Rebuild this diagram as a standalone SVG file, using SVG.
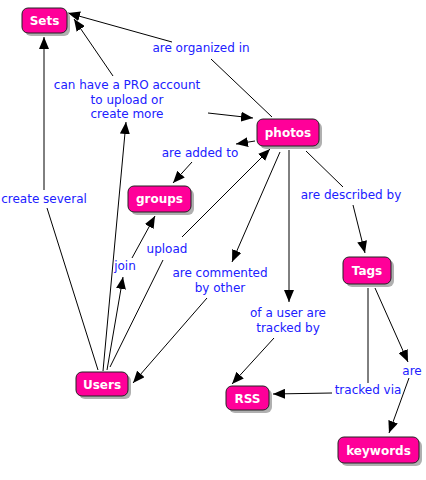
<svg xmlns="http://www.w3.org/2000/svg" width="426" height="480" viewBox="0 0 426 480">
<style>
.node rect.bg{fill:#ff0099;stroke:#222;stroke-width:1}
.node rect.sh{fill:#b0b0b0}
.node text{font-family:"DejaVu Sans",Verdana,sans-serif;font-weight:bold;font-size:12px;fill:#fff;text-anchor:middle}
.lbl{font-family:"DejaVu Sans",Verdana,sans-serif;font-size:12px;fill:#2020ff;text-anchor:middle}
.c line{stroke:#000;stroke-width:1}
.c line.a{marker-end:url(#ah)}
</style>
<defs>
<marker id="ah" markerUnits="userSpaceOnUse" markerWidth="12" markerHeight="10" refX="12" refY="5" orient="auto" viewBox="0 0 12 10">
<path d="M0,0 L12,5 L0,10 z" fill="#000"/>
</marker>
</defs>
<rect width="426" height="480" fill="#fff"/>
<g id="connectors" class="c">
<line class="a" x1="172" y1="42" x2="68" y2="13"/>
<line x1="272" y1="117" x2="211" y2="59"/>
<line class="a" x1="103" y1="371" x2="126" y2="122"/>
<line class="a" x1="113" y1="76" x2="74" y2="19"/>
<line class="a" x1="208" y1="113" x2="253" y2="118"/>
<line class="a" x1="255" y1="141" x2="236" y2="144"/>
<line class="a" x1="192" y1="162" x2="173" y2="183"/>
<line class="a" x1="107" y1="370" x2="123" y2="277"/>
<line class="a" x1="132" y1="258" x2="155" y2="216"/>
<line x1="110" y1="367" x2="163" y2="260"/>
<line class="a" x1="182" y1="237" x2="270" y2="149"/>
<line class="a" x1="280" y1="152" x2="232" y2="262"/>
<line class="a" x1="207" y1="298" x2="133" y2="383"/>
<line class="a" x1="289" y1="150" x2="289" y2="302"/>
<line class="a" x1="274" y1="338" x2="232" y2="384"/>
<line x1="306" y1="151" x2="343" y2="187"/>
<line class="a" x1="353" y1="205" x2="365" y2="253"/>
<line x1="368" y1="288" x2="368" y2="383"/>
<line class="a" x1="332" y1="393" x2="273" y2="394"/>
<line class="a" x1="375" y1="288" x2="408" y2="362"/>
<line class="a" x1="409" y1="378" x2="389" y2="433"/>
<line x1="98" y1="370" x2="47" y2="208"/>
<line class="a" x1="44" y1="190" x2="44" y2="37"/>
</g>
<g id="labels">
<text class="lbl" x="201" y="52">are organized in</text>
<text class="lbl" x="127" y="89">can have a PRO account</text>
<text class="lbl" x="127" y="104">to upload or</text>
<text class="lbl" x="127" y="118">create more</text>
<text class="lbl" x="200" y="157">are added to</text>
<text class="lbl" x="351" y="199">are described by</text>
<text class="lbl" x="44" y="203">create several</text>
<text class="lbl" x="167" y="253">upload</text>
<text class="lbl" x="125" y="270">join</text>
<text class="lbl" x="220" y="277">are commented</text>
<text class="lbl" x="220" y="292">by other</text>
<text class="lbl" x="288" y="317">of a user are</text>
<text class="lbl" x="288" y="332">tracked by</text>
<text class="lbl" x="412" y="375">are</text>
<text class="lbl" x="368" y="394">tracked via</text>
</g>
<g id="sets" class="node"><rect class="sh" x="25" y="11" width="45" height="25" rx="6"/><rect class="bg" x="22" y="8" width="45" height="25" rx="6"/><text x="44.5" y="25">Sets</text></g>
<g id="photos" class="node"><rect class="sh" x="260" y="122" width="62" height="27" rx="6"/><rect class="bg" x="257" y="119" width="62" height="27" rx="6"/><text x="288" y="137">photos</text></g>
<g id="groups" class="node"><rect class="sh" x="131" y="189" width="63" height="26" rx="6"/><rect class="bg" x="128" y="186" width="63" height="26" rx="6"/><text x="159.5" y="203">groups</text></g>
<g id="users" class="node"><rect class="sh" x="79" y="375" width="52" height="24" rx="6"/><rect class="bg" x="76" y="372" width="52" height="24" rx="6"/><text x="102" y="388.5">Users</text></g>
<g id="tags" class="node"><rect class="sh" x="346" y="260" width="48" height="27" rx="6"/><rect class="bg" x="343" y="257" width="48" height="27" rx="6"/><text x="367" y="275">Tags</text></g>
<g id="rss" class="node"><rect class="sh" x="229" y="389" width="43" height="24" rx="6"/><rect class="bg" x="226" y="386" width="43" height="24" rx="6"/><text x="247.5" y="402.5">RSS</text></g>
<g id="keywords" class="node"><rect class="sh" x="341" y="440" width="81" height="26" rx="6"/><rect class="bg" x="338" y="437" width="81" height="26" rx="6"/><text x="378.5" y="454.5">keywords</text></g>
</svg>
